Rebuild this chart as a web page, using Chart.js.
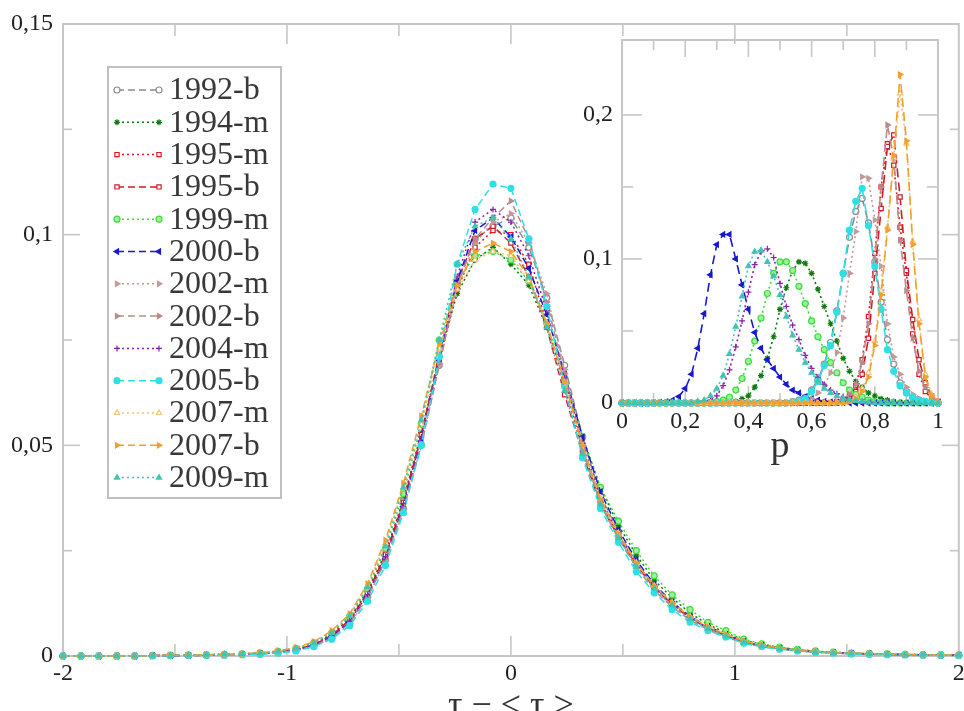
<!DOCTYPE html>
<html>
<head>
<meta charset="utf-8">
<script src="https://cdn.jsdelivr.net/npm/chart.js@4.4.1/dist/chart.umd.min.js"></script>
<style>
html,body{margin:0;padding:0;background:#fff;}
#wrap{position:relative;width:964px;height:711px;overflow:hidden;background:#fff;}
#main{position:absolute;left:0;top:0;}
#inset{position:absolute;left:560px;top:28px;}
</style>
</head>
<body>
<div id="wrap">
<canvas id="main" width="964" height="711"></canvas>
<canvas id="inset" width="400" height="450"></canvas>
</div>
<script>
// ---------- DATA ----------
const seriesNames = ['1992-b','1994-m','1995-m','1995-b','1999-m','2000-b','2002-m','2002-b','2004-m','2005-b','2007-m','2007-b','2009-m'];

// main plot: x = tau - <tau>
const tauX = [-2,-1.92,-1.84,-1.76,-1.68,-1.6,-1.52,-1.44,-1.36,-1.28,-1.2,-1.12,-1.04,-0.96,-0.88,-0.8,-0.72,-0.64,-0.56,-0.48,-0.4,-0.32,-0.24,-0.16,-0.08,0,0.08,0.16,0.24,0.32,0.4,0.48,0.56,0.64,0.72,0.8,0.88,0.96,1.04,1.12,1.2,1.28,1.36,1.44,1.52,1.6,1.68,1.76,1.84,1.92,2];

const main1992b = [0,0,0,0,0,0.0001,0.0001,0.0002,0.0002,0.0003,0.0004,0.0005,0.0008,0.0013,0.0024,0.0044,0.0080,0.0142,0.0228,0.0350,0.0500,0.0690,0.0880,0.0990,0.1020,0.1040,0.0970,0.0850,0.0690,0.0520,0.0380,0.0295,0.0222,0.0165,0.0123,0.0090,0.0066,0.0048,0.0033,0.0024,0.0018,0.0013,0.0010,0.0008,0.0006,0.0005,0.0004,0.0003,0.0003,0.0002,0.0002];
const main1994m = [0,0,0,0,0,0.0001,0.0001,0.0002,0.0003,0.0004,0.0005,0.0007,0.0010,0.0017,0.0029,0.0050,0.0088,0.0152,0.0242,0.0370,0.0530,0.0710,0.0860,0.0940,0.0970,0.0930,0.0880,0.0780,0.0660,0.0520,0.0400,0.0310,0.0240,0.0180,0.0138,0.0102,0.0075,0.0055,0.0038,0.0027,0.0020,0.0015,0.0011,0.0009,0.0007,0.0005,0.0004,0.0004,0.0003,0.0002,0.0002];
const main1995m = [0,0,0,0,0,0.0001,0.0001,0.0002,0.0002,0.0003,0.0004,0.0006,0.0010,0.0016,0.0029,0.0052,0.0090,0.0155,0.0245,0.0370,0.0525,0.0700,0.0870,0.0970,0.1010,0.1000,0.0930,0.0790,0.0640,0.0490,0.0365,0.0285,0.0218,0.0164,0.0124,0.0092,0.0068,0.0050,0.0034,0.0025,0.0019,0.0014,0.0011,0.0008,0.0006,0.0005,0.0004,0.0003,0.0003,0.0002,0.0002];
const main1995b = [0,0,0,0,0,0.0001,0.0001,0.0001,0.0002,0.0003,0.0004,0.0006,0.0009,0.0015,0.0027,0.0049,0.0086,0.0150,0.0240,0.0365,0.0525,0.0715,0.0890,0.0990,0.1020,0.0980,0.0900,0.0780,0.0620,0.0480,0.0360,0.0282,0.0215,0.0162,0.0122,0.0090,0.0067,0.0049,0.0034,0.0024,0.0018,0.0013,0.0010,0.0008,0.0006,0.0005,0.0004,0.0003,0.0003,0.0002,0.0002];
const main1999m = [0,0,0,0,0,0.0001,0.0002,0.0002,0.0003,0.0004,0.0005,0.0007,0.0011,0.0018,0.0031,0.0055,0.0094,0.0160,0.0255,0.0385,0.0550,0.0750,0.0890,0.0950,0.0960,0.0940,0.0890,0.0790,0.0660,0.0520,0.0400,0.0320,0.0250,0.0190,0.0145,0.0110,0.0080,0.0060,0.0040,0.0029,0.0021,0.0016,0.0012,0.0009,0.0007,0.0006,0.0005,0.0004,0.0003,0.0003,0.0002];
const main2000b = [0,0,0,0,0,0.0001,0.0001,0.0001,0.0002,0.0002,0.0003,0.0005,0.0008,0.0013,0.0024,0.0045,0.0080,0.0142,0.0230,0.0355,0.0510,0.0700,0.0890,0.1010,0.1040,0.0995,0.0920,0.0810,0.0670,0.0520,0.0390,0.0300,0.0228,0.0170,0.0128,0.0094,0.0070,0.0051,0.0035,0.0025,0.0018,0.0013,0.0010,0.0008,0.0006,0.0005,0.0004,0.0003,0.0002,0.0002,0.0002];
const main2002m = [0,0,0,0,0,0,0.0001,0.0001,0.0002,0.0002,0.0003,0.0005,0.0008,0.0013,0.0023,0.0042,0.0076,0.0138,0.0225,0.0348,0.0500,0.0690,0.0870,0.0980,0.1030,0.1050,0.0980,0.0860,0.0680,0.0500,0.0365,0.0282,0.0212,0.0158,0.0118,0.0087,0.0064,0.0046,0.0032,0.0023,0.0017,0.0012,0.0009,0.0007,0.0006,0.0005,0.0004,0.0003,0.0002,0.0002,0.0002];
const main2002b = [0,0,0,0,0,0,0.0001,0.0001,0.0002,0.0002,0.0003,0.0005,0.0008,0.0013,0.0024,0.0043,0.0078,0.0140,0.0228,0.0350,0.0505,0.0695,0.0880,0.0990,0.1040,0.1080,0.0990,0.0840,0.0670,0.0490,0.0360,0.0278,0.0210,0.0156,0.0116,0.0085,0.0062,0.0045,0.0031,0.0022,0.0016,0.0012,0.0009,0.0007,0.0005,0.0004,0.0003,0.0003,0.0002,0.0002,0.0001];
const main2004m = [0,0,0,0,0,0.0001,0.0001,0.0002,0.0002,0.0003,0.0004,0.0006,0.0009,0.0014,0.0026,0.0047,0.0083,0.0146,0.0236,0.0362,0.0520,0.0710,0.0900,0.1030,0.1060,0.1030,0.0950,0.0820,0.0660,0.0505,0.0375,0.0290,0.0220,0.0165,0.0124,0.0091,0.0067,0.0049,0.0034,0.0024,0.0018,0.0013,0.0010,0.0008,0.0006,0.0005,0.0004,0.0003,0.0003,0.0002,0.0002];
const main2005b = [0,0,0,0,0,0,0.0001,0.0001,0.0002,0.0002,0.0003,0.0004,0.0007,0.0012,0.0022,0.0040,0.0072,0.0130,0.0215,0.0340,0.0500,0.0710,0.0930,0.1060,0.1120,0.1110,0.0990,0.0830,0.0640,0.0470,0.0350,0.0270,0.0200,0.0150,0.0110,0.0080,0.0060,0.0045,0.0030,0.0022,0.0016,0.0012,0.0009,0.0007,0.0005,0.0004,0.0003,0.0003,0.0002,0.0002,0.0001];
const main2007m = [0,0,0,0,0,0.0001,0.0002,0.0002,0.0003,0.0004,0.0005,0.0008,0.0012,0.0019,0.0033,0.0058,0.0098,0.0168,0.0268,0.0400,0.0550,0.0730,0.0870,0.0940,0.0960,0.0950,0.0890,0.0790,0.0650,0.0500,0.0375,0.0292,0.0222,0.0167,0.0127,0.0094,0.0070,0.0052,0.0036,0.0026,0.0019,0.0014,0.0011,0.0009,0.0007,0.0006,0.0005,0.0004,0.0003,0.0003,0.0002];
const main2007b = [0,0,0,0,0,0.0001,0.0002,0.0002,0.0003,0.0004,0.0005,0.0008,0.0012,0.0020,0.0034,0.0060,0.0100,0.0172,0.0275,0.0410,0.0570,0.0740,0.0880,0.0960,0.0980,0.0960,0.0900,0.0790,0.0650,0.0500,0.0372,0.0290,0.0220,0.0166,0.0126,0.0093,0.0069,0.0051,0.0035,0.0025,0.0019,0.0014,0.0011,0.0008,0.0007,0.0006,0.0005,0.0004,0.0003,0.0003,0.0002];
const main2009m = [0,0,0,0,0,0.0001,0.0001,0.0002,0.0003,0.0004,0.0005,0.0007,0.0011,0.0018,0.0031,0.0055,0.0095,0.0163,0.0260,0.0400,0.0560,0.0750,0.0930,0.1020,0.1040,0.0990,0.0900,0.0780,0.0630,0.0480,0.0360,0.0280,0.0212,0.0160,0.0120,0.0088,0.0065,0.0047,0.0033,0.0024,0.0017,0.0012,0.0009,0.0007,0.0006,0.0005,0.0004,0.0003,0.0003,0.0002,0.0002];

// inset: x = p
const pX = [0,0.02,0.04,0.06,0.08,0.1,0.12,0.14,0.16,0.18,0.2,0.22,0.24,0.26,0.28,0.3,0.32,0.34,0.36,0.38,0.4,0.42,0.44,0.46,0.48,0.5,0.52,0.54,0.56,0.58,0.6,0.62,0.64,0.66,0.68,0.7,0.72,0.74,0.76,0.78,0.8,0.82,0.84,0.86,0.88,0.9,0.92,0.94,0.96,0.98,1];

const ins1992b = [0,0,0,0,0,0,0,0,0,0,0,0,0,0,0,0,0,0,0,0,0,0,0,0,0,0,0,0.001,0.002,0.004,0.009,0.016,0.027,0.042,0.064,0.090,0.115,0.133,0.142,0.125,0.098,0.070,0.044,0.027,0.014,0.008,0.004,0.002,0.001,0.0005,0];
const ins1994m = [0,0,0,0,0,0,0,0,0,0,0,0,0,0,0,0,0,0.0005,0.001,0.003,0.005,0.011,0.019,0.031,0.046,0.065,0.080,0.092,0.098,0.097,0.090,0.079,0.067,0.055,0.043,0.031,0.022,0.015,0.011,0.007,0.005,0.003,0.002,0.001,0.0005,0,0,0,0,0,0];
const ins1995m = [0,0,0,0,0,0,0,0,0,0,0,0,0,0,0,0,0,0,0,0,0,0,0,0,0,0,0,0,0,0,0,0,0,0,0.001,0.002,0.005,0.012,0.030,0.060,0.104,0.150,0.180,0.165,0.122,0.090,0.048,0.020,0.008,0.003,0.001];
const ins1995b = [0,0,0,0,0,0,0,0,0,0,0,0,0,0,0,0,0,0,0,0,0,0,0,0,0,0,0,0,0,0,0,0,0,0,0,0.001,0.003,0.008,0.020,0.045,0.090,0.135,0.178,0.186,0.143,0.092,0.058,0.030,0.014,0.005,0.001];
const ins1999m = [0,0,0,0,0,0,0,0,0,0,0,0,0,0,0,0.001,0.002,0.004,0.009,0.017,0.029,0.043,0.059,0.076,0.090,0.098,0.098,0.092,0.081,0.069,0.057,0.046,0.037,0.028,0.021,0.014,0.009,0.006,0.004,0.002,0.001,0.0005,0,0,0,0,0,0,0,0,0];
const ins2000b = [0,0,0,0,0,0,0.0005,0.001,0.002,0.0045,0.010,0.020,0.038,0.062,0.089,0.110,0.117,0.117,0.100,0.082,0.065,0.049,0.038,0.030,0.024,0.018,0.013,0.009,0.007,0.0045,0.003,0.002,0.0012,0.0008,0.0005,0.0003,0,0,0,0,0,0,0,0,0,0,0,0,0,0,0];
const ins2002m = [0,0,0,0,0,0,0,0,0,0,0,0,0,0,0,0,0,0,0,0,0,0,0,0,0,0,0,0,0,0.001,0.003,0.007,0.012,0.021,0.035,0.059,0.090,0.119,0.157,0.156,0.127,0.095,0.055,0.032,0.020,0.011,0.006,0.003,0.0015,0.0005,0];
const ins2002b = [0,0,0,0,0,0,0,0,0,0,0,0,0,0,0,0,0,0,0,0,0,0,0,0,0,0,0,0,0,0,0,0,0,0,0.001,0.003,0.006,0.013,0.028,0.055,0.100,0.150,0.193,0.170,0.113,0.078,0.045,0.022,0.011,0.004,0.001];
const ins2004m = [0,0,0,0,0,0,0,0,0,0,0,0,0,0.001,0.002,0.005,0.012,0.023,0.039,0.057,0.077,0.096,0.105,0.107,0.101,0.083,0.067,0.054,0.044,0.033,0.024,0.018,0.013,0.009,0.0065,0.004,0.003,0.002,0.001,0.0005,0,0,0,0,0,0,0,0,0,0,0];
const ins2005b = [0,0,0,0,0,0,0,0,0,0,0,0,0,0,0,0,0,0,0,0,0,0,0,0,0,0,0,0.0005,0.001,0.003,0.008,0.015,0.026,0.040,0.063,0.090,0.120,0.140,0.149,0.123,0.095,0.065,0.037,0.022,0.012,0.007,0.004,0.002,0.001,0.0005,0];
const ins2007m = [0,0,0,0,0,0,0,0,0,0,0,0,0,0,0,0,0,0,0,0,0,0,0,0,0,0,0,0,0,0,0,0,0,0,0,0,0.001,0.004,0.010,0.021,0.043,0.078,0.122,0.170,0.215,0.180,0.112,0.058,0.020,0.006,0.001];
const ins2007b = [0,0,0,0,0,0,0,0,0,0,0,0,0,0,0,0,0,0,0,0,0,0,0,0,0,0,0,0,0,0,0,0,0,0,0,0,0.001,0.003,0.008,0.018,0.040,0.075,0.120,0.172,0.228,0.182,0.110,0.055,0.018,0.005,0.001];
const ins2009m = [0,0,0,0,0,0,0,0,0,0,0,0,0.001,0.002,0.005,0.010,0.019,0.034,0.053,0.074,0.095,0.105,0.106,0.098,0.088,0.075,0.060,0.047,0.037,0.028,0.021,0.015,0.010,0.007,0.005,0.003,0.002,0.0015,0.001,0.0005,0,0,0,0,0,0,0,0,0,0,0];

const mainSeries = [main1992b,main1994m,main1995m,main1995b,main1999m,main2000b,main2002m,main2002b,main2004m,main2005b,main2007m,main2007b,main2009m];
const insetSeries = [ins1992b,ins1994m,ins1995m,ins1995b,ins1999m,ins2000b,ins2002m,ins2002b,ins2004m,ins2005b,ins2007m,ins2007b,ins2009m];

// ---------- STYLES ----------
const colors = ['#8c8c8c','#0f7a0f','#e8141e','#d01c28','#3cdc3c','#1818d0','#c49a9a','#b88c8c','#8a22b0','#2ee0e6','#f2c27a','#f2a02a','#40c4b4'];
const fills  = ['#ffffff','#0f7a0f','#ffffff','#ffffff','#9ef09e','#1818d0','#c49a9a','#b88c8c','#8a22b0','#2ee0e6','#ffffff','#f2a02a','#40c4b4'];
const lineKinds = ['dash','dot','dot','dash','dot','dash','dot','dash','dot','dash','dot','dash','dot'];
const markers = ['circle','star','rect','rect','circle','triangle','triangle','triangle','cross','circle','triangle','triangle','triangle'];
const markerRot = [0,0,0,0,0,-90,90,90,0,0,0,90,0];

const SERIF = '"Liberation Serif", "DejaVu Serif", "Times New Roman", serif';
const fmt = v => String(Math.round(v * 1000) / 1000).replace('.', ',');

function makeDatasets(xs, series, dashLong, lw) {
  return series.map((vals, i) => ({
    label: seriesNames[i],
    data: xs.map((x, k) => ({ x: x, y: vals[k] })),
    order: series.length - i,
    borderColor: colors[i],
    backgroundColor: fills[i],
    pointBackgroundColor: fills[i],
    pointBorderColor: colors[i],
    pointStyle: markers[i],
    pointRotation: markerRot[i],
    pointRadius: 3,
    pointBorderWidth: 1.2,
    borderWidth: lw,
    borderDash: lineKinds[i] === 'dash' ? dashLong : [2, 3],
    tension: 0,
    fill: false,
    clip: false
  }));
}

// frame + inward ticks drawn through the chart's own scales
const framePlugin = {
  id: 'frame',
  beforeDatasetsDraw(chart, args, o) {
    const { ctx, chartArea: a } = chart;
    const x = chart.scales.x, y = chart.scales.y;
    ctx.save();
    ctx.strokeStyle = '#c6c6c6';
    ctx.lineWidth = 2;
    ctx.strokeRect(a.left, a.top, a.right - a.left, a.bottom - a.top);
    ctx.lineWidth = 1.6;
    const seg = (x1, y1, x2, y2) => { ctx.beginPath(); ctx.moveTo(x1, y1); ctx.lineTo(x2, y2); ctx.stroke(); };
    o.xTicks.forEach(([v, len]) => {
      const px = x.getPixelForValue(v);
      seg(px, a.bottom, px, a.bottom - len);
      seg(px, a.top, px, a.top + len);
    });
    o.yTicks.forEach(([v, len]) => {
      const py = y.getPixelForValue(v);
      seg(a.left, py, a.left + len, py);
      seg(a.right, py, a.right - len, py);
    });
    ctx.restore();
  }
};

function drawMarker(ctx, style, rot, r, x, y) {
  if (Chart.helpers && Chart.helpers.drawPoint) {
    Chart.helpers.drawPoint(ctx, { pointStyle: style, rotation: rot, radius: r, borderWidth: 1.2 }, x, y);
  } else {
    ctx.beginPath(); ctx.arc(x, y, r, 0, Math.PI * 2); ctx.fill(); ctx.stroke();
  }
}

const legendPlugin = {
  id: 'boxLegend',
  afterDatasetsDraw(chart, args, o) {
    if (!o.show) return;
    const ctx = chart.ctx;
    ctx.save();
    ctx.fillStyle = '#ffffff';
    ctx.fillRect(108, 67, 173, 431);
    ctx.strokeStyle = '#c0c0c0';
    ctx.lineWidth = 2;
    ctx.strokeRect(108, 67, 173, 431);
    chart.data.datasets.forEach((ds, i) => {
      const yy = 90 + i * 32.3;
      ctx.strokeStyle = ds.borderColor;
      ctx.lineWidth = 1.5;
      ctx.setLineDash(ds.borderDash);
      ctx.beginPath(); ctx.moveTo(117, yy); ctx.lineTo(159, yy); ctx.stroke();
      ctx.setLineDash([]);
      ctx.fillStyle = ds.pointBackgroundColor;
      ctx.strokeStyle = ds.pointBorderColor;
      ctx.lineWidth = 1.2;
      drawMarker(ctx, ds.pointStyle, ds.pointRotation, 3, 117, yy);
      drawMarker(ctx, ds.pointStyle, ds.pointRotation, 3, 159, yy);
      ctx.fillStyle = '#383838';
      ctx.font = '32px ' + SERIF;
      ctx.textAlign = 'left';
      ctx.textBaseline = 'middle';
      ctx.fillText(ds.label, 169, yy + 1);
    });
    ctx.restore();
  }
};

Chart.register(framePlugin, legendPlugin);

// ---------- MAIN CHART ----------
new Chart(document.getElementById('main'), {
  type: 'line',
  data: { datasets: makeDatasets(tauX, mainSeries, [7, 4], 1.5) },
  options: {
    responsive: false, animation: false, devicePixelRatio: 1,
    layout: { padding: { left: 0, right: 1, top: 24, bottom: 0 } },
    plugins: {
      legend: { display: false }, tooltip: { enabled: false },
      frame: { xTicks: [[-1.5, 12], [-1, 20], [-0.5, 12], [0, 20], [0.5, 12], [1, 20], [1.5, 12]],
               yTicks: [[0.025, 9], [0.05, 17], [0.075, 9], [0.1, 17], [0.125, 9]] },
      boxLegend: { show: true }
    },
    scales: {
      x: {
        type: 'linear', min: -2, max: 2,
        grid: { display: false, drawTicks: false }, border: { display: false },
        ticks: { stepSize: 1, padding: 3, color: '#222', font: { family: SERIF, size: 24 }, callback: fmt, maxRotation: 0 },
        title: { display: true, text: 'τ − < τ >', color: '#333', font: { family: SERIF, size: 36, lineHeight: 0.4 }, padding: { top: 0, bottom: -3 } },
        afterFit(s) { s.height = 55; s.paddingLeft = 0; s.paddingRight = 0; }
      },
      y: {
        type: 'linear', min: 0, max: 0.15,
        grid: { display: false, drawTicks: false }, border: { display: false },
        ticks: { stepSize: 0.05, padding: 10, color: '#222', font: { family: SERIF, size: 24 }, callback: fmt },
        afterFit(s) { s.width = 63; s.paddingTop = 0; s.paddingBottom = 0; }
      }
    }
  }
});

// ---------- INSET CHART ----------
new Chart(document.getElementById('inset'), {
  type: 'line',
  data: { datasets: makeDatasets(pX, insetSeries, [9, 5], 1.6) },
  options: {
    responsive: false, animation: false, devicePixelRatio: 1,
    layout: { padding: { left: 0, right: 22, top: 12, bottom: 0 } },
    plugins: {
      legend: { display: false }, tooltip: { enabled: false },
      frame: { xTicks: [[0.1, 10], [0.2, 17], [0.3, 10], [0.4, 17], [0.5, 10], [0.6, 17], [0.7, 10], [0.8, 17], [0.9, 10]],
               yTicks: [[0.05, 11], [0.1, 20], [0.15, 11], [0.2, 20]] },
      boxLegend: { show: false }
    },
    scales: {
      x: {
        type: 'linear', min: 0, max: 1,
        grid: { display: false, drawTicks: false }, border: { display: false },
        ticks: { stepSize: 0.2, padding: 4, color: '#222', font: { family: SERIF, size: 24 }, callback: fmt, maxRotation: 0 },
        title: { display: true, text: 'p', color: '#333', font: { family: SERIF, size: 38, lineHeight: 1 }, padding: { top: 0, bottom: 12 } },
        afterFit(s) { s.height = 75; s.paddingLeft = 0; s.paddingRight = 0; }
      },
      y: {
        type: 'linear', min: 0, max: 0.252,
        grid: { display: false, drawTicks: false }, border: { display: false },
        ticks: { stepSize: 0.1, includeBounds: false, padding: 9, color: '#222', font: { family: SERIF, size: 24 }, callback: fmt },
        afterFit(s) { s.width = 62; s.paddingTop = 0; s.paddingBottom = 0; }
      }
    }
  }
});
</script>
</body>
</html>
